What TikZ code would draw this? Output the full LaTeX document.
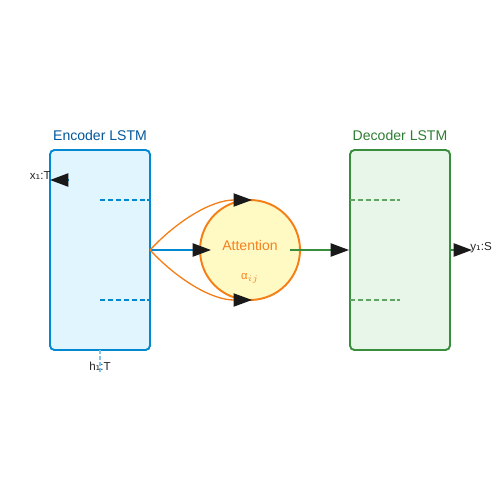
\documentclass[tikz,border=0pt]{standalone}
\usepackage{fontspec}
\setmainfont{Liberation Sans}
\newfontfamily\dvs{DejaVu Sans}
\usetikzlibrary{arrows.meta}
\definecolor{encfill}{HTML}{E1F5FE}
\definecolor{encdraw}{HTML}{0288D1}
\definecolor{enctext}{HTML}{01579B}
\definecolor{decfill}{HTML}{E8F5E9}
\definecolor{decdraw}{HTML}{388E3C}
\definecolor{dectext}{HTML}{2E7D32}
\definecolor{attfill}{HTML}{FFF9C4}
\definecolor{attdraw}{HTML}{F57F17}
\definecolor{atttext}{HTML}{F58220}
\tikzset{
  x=0.02cm, y=-0.02cm,
  lstmbox/.style={draw, line width=1.1pt, rounded corners=2.5pt, minimum width=2cm, minimum height=4cm, inner sep=0pt},
  ttl/.style={font=\fontsize{8}{9}\selectfont},
  lbl/.style={font=\fontsize{6.6}{7}\selectfont, text=black!85, inner sep=0pt},
  tip/.style={-{Triangle[length=10.5pt,width=7.5pt,color=black!90]}},
  conn/.style={line width=1.1pt},
  curv/.style={draw=attdraw, line width=0.75pt},
}
\begin{document}
\begin{tikzpicture}
\useasboundingbox (0,0) rectangle (500,500);
% boxes
\node[lstmbox, draw=encdraw, fill=encfill] (enc) at (100,250) {};
\node[lstmbox, draw=decdraw, fill=decfill] (dec) at (400,250) {};
\node[ttl, text=enctext, anchor=base] (enct) at (100,140) {Encoder LSTM};
\node[ttl, text=dectext, anchor=base] (dect) at (400,140) {Decoder LSTM};
% dashed internal lines
\coordinate (ea1) at (100,200); \coordinate (eb1) at (150,200);
\coordinate (ea2) at (100,300); \coordinate (eb2) at (150,300);
\draw[encdraw, dashed, line width=0.6pt, dash pattern=on 3pt off 1.5pt] (ea1) -- (eb1);
\draw[encdraw, dashed, line width=0.6pt, dash pattern=on 3pt off 1.5pt] (ea2) -- (eb2);
\coordinate (da1) at (350,200); \coordinate (db1) at (400,200);
\coordinate (da2) at (350,300); \coordinate (db2) at (400,300);
\draw[decdraw!80, dashed, line width=0.6pt, dash pattern=on 3pt off 1.5pt] (da1) -- (db1);
\draw[decdraw!80, dashed, line width=0.6pt, dash pattern=on 3pt off 1.5pt] (da2) -- (db2);
% attention
\node[circle, draw=attdraw, fill=attfill, line width=1.1pt, minimum size=2cm, inner sep=0pt] (att) at (250,250) {};
\node[ttl, text=atttext, anchor=base] (attl) at (250,250) {Attention};
\node[lbl, text=atttext, anchor=base, font=\fontsize{6.4}{7}\selectfont] (alpha) at (250,279) {α$_{ij}$};
% input arrow
\coordinate (xs) at (69,180);
\coordinate (xe) at (50,180);
\draw[conn, encdraw, tip] (xs) -- (xe);
\node[lbl, anchor=base east] (xl) at (51,179) {x{\dvs ₁}:T};
% hidden states
\coordinate (hs) at (100,350);
\coordinate (he) at (100,373);
\draw[encdraw!50, dashed, line width=0.8pt, dash pattern=on 2pt off 1.5pt] (hs) -- (he);
\node[lbl, anchor=base] (hl) at (100,370) {h{\dvs ₁}:T};
% encoder -> attention
\coordinate (eo) at (150,250);
\coordinate (ai) at (211,250);
\draw[conn, encdraw, tip] (eo) -- (ai);
\coordinate (at) at (252,200);
\coordinate (ab) at (252,300);
\draw[curv, tip] (eo) .. controls (178,220) and (212,200) .. (at);
\draw[curv, tip] (eo) .. controls (178,280) and (212,300) .. (ab);
% attention -> decoder
\coordinate (ao) at (290,250);
\draw[conn, decdraw, tip] (ao) -- (dec.west);
% output
\coordinate (yo) at (472,250);
\draw[conn, decdraw, tip] (dec.east) -- (yo);
\node[lbl, anchor=base west] (yl) at (470,250) {y{\dvs ₁}:S};
\end{tikzpicture}
\end{document}
